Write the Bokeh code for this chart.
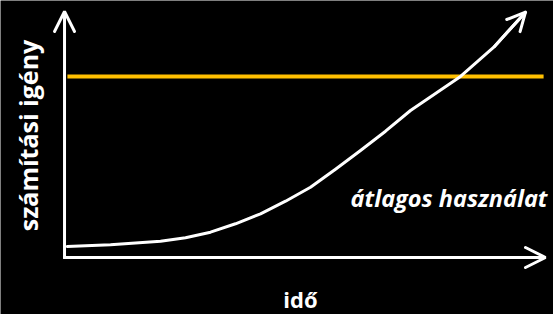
import numpy as np
from bokeh.plotting import figure
from bokeh.models import Range1d, Arrow, OpenHead, Label
from bokeh.embed import file_html
from bokeh.resources import INLINE

# ---- data ----
time = [0.56, 9.56, 19.96, 25.16, 30.35, 35.55, 40.75, 45.95, 51.14, 56.34,
        61.54, 66.74, 71.93, 77.13, 82.33, 89.25, 95.84]
demand = [4.49, 5.18, 6.65, 8.04, 10.33, 13.76, 17.84, 22.98, 28.69, 36.04,
          43.67, 51.55, 60.0, 66.9, 73.88, 85.84, 100.12]
avg_usage = 73.9
avg_x = [0.6, 99.6]

x_label = "idő"
y_label = "számítási igény"
avg_label = "átlagos használat"

ORANGE = "#FFC000"
FONT = "Open Sans"

p = figure(width=553, height=314, output_backend="svg", toolbar_location=None,
           x_range=Range1d(-13.31, 101.66), y_range=Range1d(-23.27, 104.9),
           min_border=0, background_fill_color="black", border_fill_color="black",
           outline_line_color=None)
p.axis.visible = False
p.grid.visible = False
p.styles = {"box-shadow": "0 0 0 8px black"}

# average usage line
p.line(avg_x, [avg_usage, avg_usage], line_color=ORANGE, line_width=4)

# demand curve
p.line(time, demand, line_color="white", line_width=3, line_cap="round", line_join="round")
p.add_layout(Arrow(end=OpenHead(size=18, line_color="white", line_width=3, line_cap="round"),
                   x_start=time[-2], y_start=demand[-2], x_end=time[-1], y_end=demand[-1],
                   line_color="white", line_width=3))

# axes with arrows
p.add_layout(Arrow(end=OpenHead(size=20, line_color="white", line_width=3, line_cap="round"),
                   x_start=0, y_start=-0.3, x_end=0, y_end=100.4,
                   line_color="white", line_width=3))
p.add_layout(Arrow(end=OpenHead(size=20, line_color="white", line_width=3, line_cap="round"),
                   x_start=-0.3, y_start=0, x_end=100, y_end=0,
                   line_color="white", line_width=3))

# texts
p.add_layout(Label(x=27, y=179, x_units="screen", y_units="screen", text=y_label,
                   angle=np.pi / 2, text_align="center", text_baseline="middle",
                   text_color="white", text_font=FONT, text_font_style="bold",
                   text_font_size="25px"))
p.add_layout(Label(x=300, y=15.5, x_units="screen", y_units="screen", text=x_label,
                   text_align="center", text_baseline="alphabetic",
                   text_color="white", text_font=FONT, text_font_style="bold",
                   text_font_size="22px"))
p.add_layout(Label(x=547, y=116.5, x_units="screen", y_units="screen", text=avg_label,
                   text_align="right", text_baseline="alphabetic",
                   text_color="white", text_font=FONT, text_font_style="bold italic",
                   text_font_size="23.5px"))

open("out.html", "w").write(file_html(p, INLINE))
